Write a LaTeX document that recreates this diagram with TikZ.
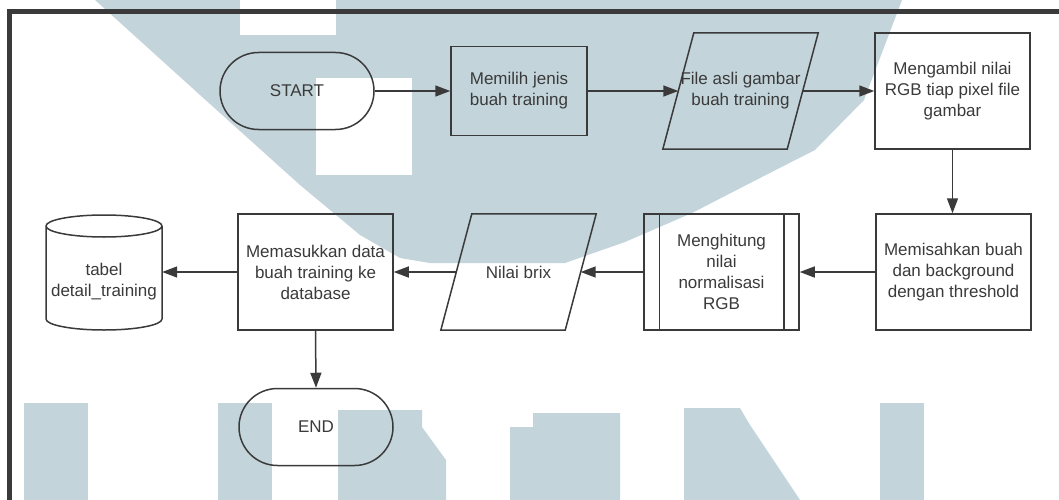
\documentclass[tikz,border=0pt]{standalone}
\usepackage{fontspec}
\setmainfont{Liberation Sans}
\usepackage{xcolor}
\usetikzlibrary{shapes.misc,arrows.meta}
\definecolor{ink}{HTML}{3A3A3A}
\definecolor{wmark}{HTML}{C3D4DB}

\begin{document}
\begin{tikzpicture}[x=1pt, y=-1pt,
  font=\fontsize{17}{21}\selectfont, text=ink,
  every node/.style={align=center, inner sep=0pt},
  terminal/.style={draw=ink, line width=1.5pt, rounded rectangle, minimum width=154pt, minimum height=77pt},
  process/.style={draw=ink, line width=1.5pt, rectangle, minimum width=155pt, minimum height=116pt},
  io/.style={minimum width=124pt, minimum height=116pt},
  flow/.style={draw=ink, line width=1.5pt, -{Triangle[length=15pt,width=11pt]}},
  shapeline/.style={draw=ink, line width=1.5pt}]
  \useasboundingbox (0,0) rectangle (1059,500);
  % watermark
  \fill[wmark] (95,0) -- (200,95) -- (300,185) -- (360,235) -- (400,258) -- (430,263) -- (565,263) -- (625,242) -- (692,213) -- (760,178) -- (815,150) -- (864,100) -- (902,0) -- cycle;
  \fill[white] (240,0) rectangle (336,35);
  \fill[white] (316,78) rectangle (412,175);
  \fill[wmark] (24,403) rectangle (88,500);
  \fill[wmark] (218,403) rectangle (272,500);
  \fill[wmark] (338,410) -- (422,410) -- (422,427) -- (446,460) -- (446,500) -- (338,500) -- cycle;
  \fill[wmark] (510,427) -- (533,427) -- (533,413) -- (620,413) -- (620,500) -- (510,500) -- cycle;
  \fill[wmark] (684,408) -- (740,408) -- (750,425) -- (800,500) -- (684,500) -- cycle;
  \fill[wmark] (880,403) rectangle (924,500);
  % frame
  \draw[color=ink, line width=5pt] (9.5,500) -- (9.5,11.5) -- (1059,11.5);

  \node[terminal] (start) at (297,91) {START};
  \node[process, minimum width=136pt, minimum height=89pt] (choose) at (519,91) {Memilih jenis\\buah training};
  \node[io] (fileimg) at (740.5,91) {File asli gambar\\buah training};
  \node[process] (rgbval) at (952.5,91) {Mengambil nilai\\RGB tiap pixel file\\gambar};
  \node[process] (separate) at (953.5,272) {Memisahkan buah\\dan background\\dengan threshold};
  \node[process] (normal) at (721.5,272) {Menghitung\\nilai\\normalisasi\\RGB};
  \node[io] (brix) at (518.5,272) {Nilai brix};
  \node[process] (insert) at (315.5,272) {Memasukkan data\\buah training ke\\database};
  \node[minimum width=116pt, minimum height=96pt] (table) at (104,282) {tabel\\detail\_training};
  \node[terminal] (end) at (316,427) {END};

  \draw[shapeline] ([xshift=15.5pt]fileimg.north west) -- ([xshift=15.5pt]fileimg.north east) -- ([xshift=-15.5pt]fileimg.south east) -- ([xshift=-15.5pt]fileimg.south west) -- cycle;
  \draw[shapeline] ([xshift=15.5pt]brix.north west) -- ([xshift=15.5pt]brix.north east) -- ([xshift=-15.5pt]brix.south east) -- ([xshift=-15.5pt]brix.south west) -- cycle;
  \draw[shapeline] ([xshift=16pt]normal.north west) -- ([xshift=16pt]normal.south west);
  \draw[shapeline] ([xshift=-16pt]normal.north east) -- ([xshift=-16pt]normal.south east);
  \draw[shapeline] ([shift={(-58pt,56pt)}]table.center) -- ([shift={(-58pt,-37pt)}]table.center) arc[start angle=180, end angle=360, x radius=58pt, y radius=11pt] -- ([shift={(58pt,56pt)}]table.center) arc[start angle=0, end angle=180, x radius=58pt, y radius=11pt] arc[start angle=180, end angle=360, x radius=58pt, y radius=11pt];

  \draw[flow] (start.east) -- (choose.west);
  \draw[flow] (choose.east) -- (fileimg.west);
  \draw[flow] (fileimg.east) -- (rgbval.west);
  \draw[flow] (rgbval.south) -- (rgbval.south |- separate.north);
  \draw[flow] (separate.west) -- (normal.east);
  \draw[flow] (normal.west) -- (brix.east);
  \draw[flow] (brix.west) -- (insert.east);
  \draw[flow] (insert.west) -- (insert.west -| table.east);
  \draw[flow] (insert.south) -- (end.north);
\end{tikzpicture}
\end{document}
